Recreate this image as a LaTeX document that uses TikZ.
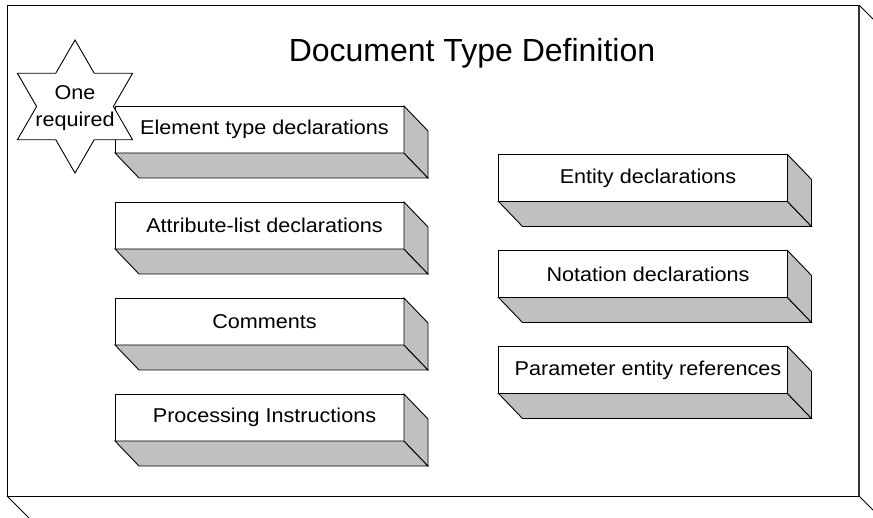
\documentclass[tikz,border=0pt]{standalone}
\usepackage{fontspec}
\setmainfont{Liberation Sans}
\newfontfamily\labelfont[FakeStretch=1.08]{Liberation Sans}
\usetikzlibrary{calc}

\definecolor{slabgray}{HTML}{C0C0C0}

\tikzset{
  outline/.style={draw=black, line width=0.9pt},
  slab/.style={outline, fill=white, rectangle, minimum width=289pt, minimum height=47pt,
    inner sep=0pt, outer sep=0pt, font=\labelfont\fontsize{20}{24}\selectfont},
  slabside/.style={outline, fill=slabgray, line join=miter},
  starline/.style={outline, fill=white, line join=miter},
  startext/.style={align=center, inner sep=0pt, font=\labelfont\fontsize{20}{27}\selectfont},
  heading/.style={inner sep=0pt, font=\fontsize{32}{36}\selectfont},
}

% A slab: a front face with its bottom and right faces drawn in depth
\newcommand{\slabbox}[4]{%
  \node[slab] (#1) at (#2,#3) {\hspace*{10pt}#4};
  \filldraw[slabside] (#1.south west) -- ($(#1.south west)+(24,25)$)
    -- ($(#1.south east)+(24,25)$) -- (#1.south east) -- cycle;
  \filldraw[slabside] (#1.north east) -- ($(#1.north east)+(24,25)$)
    -- ($(#1.south east)+(24,25)$) -- (#1.south east) -- cycle;
}

\begin{document}
\begin{tikzpicture}[x=1pt, y=-1pt]
  \useasboundingbox (0,0) rectangle (873,518);
  \clip (0,0) rectangle (873,518);

  % outer frame (front face and receding edges)
  \coordinate (ftl) at (7,5);
  \coordinate (ftr) at (859,5);
  \coordinate (fbl) at (7,496);
  \coordinate (fbr) at (859,496);
  \draw[outline] (ftr) -- (ftl) -- (fbl) -- (fbr);
  \draw[draw=black!80, line width=1.6pt] (ftr) -- (fbr);
  \draw[outline] (ftr) -- ++(30,30);
  \draw[outline] (fbl) -- ++(30,30);
  \draw[outline] (fbr) -- ++(30,30);

  \node[heading] (title) at (472,53) {Document Type Definition};

  % left column
  \slabbox{elem}{259.5}{129.5}{Element type declarations}
  \slabbox{attr}{259.5}{225.5}{Attribute-list declarations}
  \slabbox{comm}{259.5}{321.5}{Comments}
  \slabbox{proc}{259.5}{417.5}{Processing Instructions}

  % right column
  \slabbox{ent}{643}{178}{Entity declarations}
  \slabbox{nota}{643}{274}{Notation declarations}
  \slabbox{pent}{643}{370}{Parameter entity references}

  % six-pointed star
  \coordinate (starc) at (75,106.5);
  \draw[starline] ($(starc)+(90:66.5)$)
    \foreach \k in {1,...,11}{ -- ($(starc)+({90+30*\k}:{ifthenelse(mod(\k,2)==0,66.5,38.4)})$) }
    -- cycle;
  \node[startext] (req) at (75,108) {One\\required};
\end{tikzpicture}
\end{document}
